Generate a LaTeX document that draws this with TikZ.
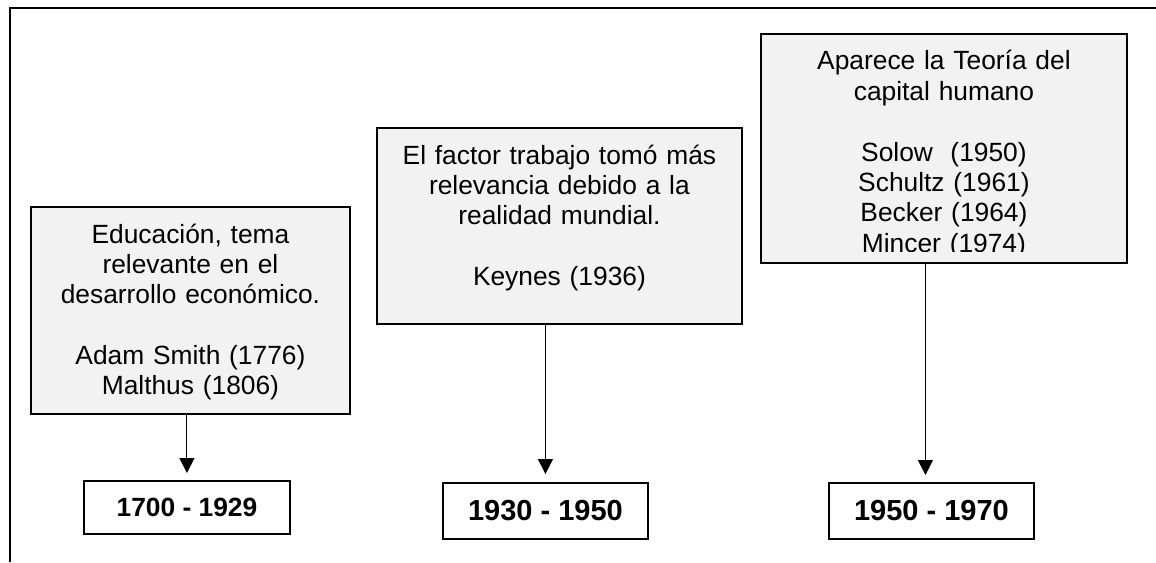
\documentclass[tikz,border=0pt]{standalone}
\usepackage{fontspec}
\setmainfont{Liberation Sans}
\usetikzlibrary{arrows.meta,positioning}
\definecolor{boxgray}{RGB}{242,242,242}

\begin{document}
\begin{tikzpicture}[x=0.02cm, y=-0.02cm,
    idea/.style={draw, line width=1.1pt, fill=boxgray, anchor=north west, inner sep=0pt},
    ideatext/.style={anchor=base, align=center, inner sep=0pt, text width=6cm,
      font=\fontsize{15}{17.3}\selectfont},
    period/.style={draw, line width=1.1pt, anchor=north west, inner sep=0pt,
      minimum width=4.1cm, minimum height=1.12cm, font=\bfseries\fontsize{16.5}{19}\selectfont},
    link/.style={-{Triangle[width=0.3cm,length=0.3cm]}, line width=0.6pt}]

  \useasboundingbox (0,0) rectangle (1156,562);

  % marco
  \draw[line width=1.1pt] (10,562) -- (10,8) -- (1156,8);

  % cajas de contenido
  \node (idea1) [idea, minimum width=6.38cm, minimum height=4.14cm] at (30,206) {};
  \node (idea2) [idea, minimum width=7.3cm, minimum height=3.92cm] at (376,127) {};
  \node (idea3) [idea, minimum width=7.32cm, minimum height=4.58cm] at (760,33) {};

  \node (txt1) [ideatext] at ([yshift=-0.74cm]idea1.north)
    {Educación, tema\\ relevante en el\\ desarrollo económico.\\[17.3pt]
     Adam Smith (1776)\\ Malthus (1806)};
  \node (txt2) [ideatext, text width=7cm] at ([yshift=-0.74cm]idea2.north)
    {El factor trabajo tomó más\\ relevancia debido a la\\ realidad mundial.\\[17.3pt]
     Keynes (1936)};
  \begin{scope}
    \clip (idea3.north west) rectangle ([yshift=0.24cm]idea3.south east);
    \node (txt3) [ideatext, text width=7cm] at ([yshift=-0.74cm]idea3.north)
      {Aparece la Teoría del\\ capital humano\\[17.3pt]
       Solow\ \ (1950)\\ Schultz (1961)\\ Becker (1964)\\ Mincer (1974)};
  \end{scope}

  % periodos
  \node (per1) [period, minimum width=4.12cm, minimum height=1.06cm,
    font=\bfseries\fontsize{15}{18}\selectfont] at (83,480) {1700 - 1929};
  \node (per2) [period] at (442,482) {1930 - 1950};
  \node (per3) [period] at (828,482) {1950 - 1970};

  % flechas
  \draw[link] (idea1.south -| per1.north) -- ([yshift=0.14cm]per1.north);
  \draw[link] (idea2.south -| per2.north) -- ([yshift=0.16cm]per2.north);
  \draw[link] ([xshift=-0.12cm]idea3.south -| per3.north) -- ([xshift=-0.12cm,yshift=0.14cm]per3.north);

\end{tikzpicture}
\end{document}
